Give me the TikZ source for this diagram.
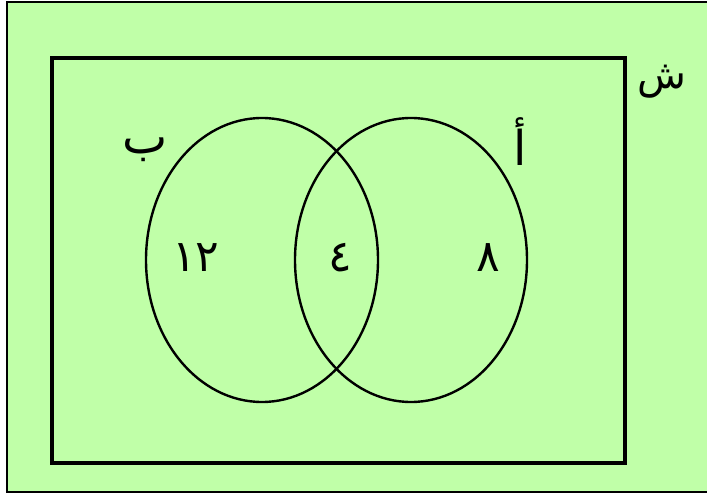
\documentclass[tikz,border=0pt]{standalone}
\usepackage{fontspec}
\usetikzlibrary{positioning,shapes.geometric}
\newfontfamily\arabicfont[Script=Arabic]{DejaVu Sans}
\TeXXeTstate=1
\definecolor{bggreen}{RGB}{192,255,168}

\begin{document}
\begin{tikzpicture}[
    x=1pt, y=-1pt,
    frame/.style={draw, line width=2.6pt, fill=bggreen},
    universe/.style={draw, line width=3.6pt},
    setshape/.style={ellipse, draw, line width=2.4pt, minimum width=232pt, minimum height=284pt},
    setname/.style={font=\arabicfont\fontsize{48}{56}\selectfont, inner sep=0pt},
    count/.style={font=\arabicfont\fontsize{44}{50}\selectfont, inner sep=0pt}
]
\useasboundingbox (0,0) rectangle (707,494);
\draw[frame] (7,2) rectangle (730,492);
\draw[universe] (52,58) rectangle (625,463);
\node[setshape] (B) at (262,260) {};
\node[setshape] (A) at (411,260) {};
\node[setname, font=\arabicfont\fontsize{40}{46}\selectfont] (nameS) at (662,82) {\beginR ش\endR};
\node[setname] (nameB) at (145,150) {\beginR ب\endR};
\node[setname] (nameA) at (520,142) {\beginR أ\endR};
\node[count] (onlyB) at (196,258) {١٢};
\node[count] (both) at (340,258) {٤};
\node[count] (onlyA) at (488,258) {٨};
\end{tikzpicture}
\end{document}
